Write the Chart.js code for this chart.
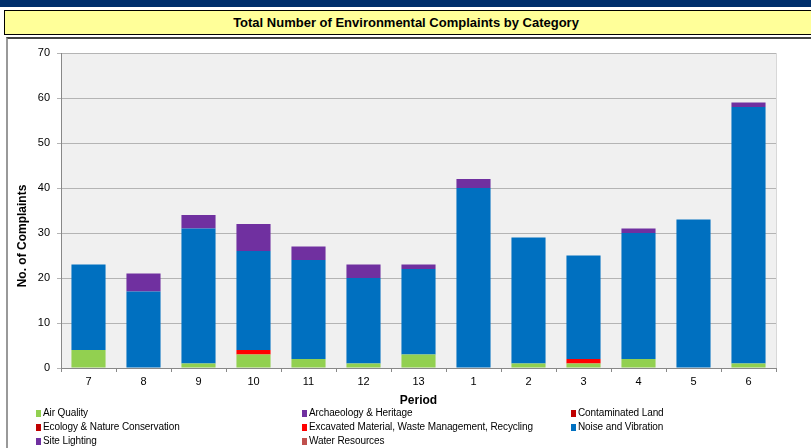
<!DOCTYPE html>
<html>
<head>
<meta charset="utf-8">
<script src="https://cdn.jsdelivr.net/npm/chart.js@4"></script>
<style>
  body { margin: 0; width: 811px; height: 448px; overflow: hidden; background: #fff; font-family: "Liberation Sans", Arial, sans-serif; }
  #band { position: absolute; left: 0; top: 0; width: 811px; height: 7px; background: #002f6c; }
  #title { position: absolute; left: 4px; top: 10px; width: 820px; height: 23px; background: #ffff99; border: 1px solid #000; }
  #title span { position: absolute; left: 0; width: 802px; top: 4px; text-align: center; font-weight: bold; font-size: 13px; color: #000; }
  #box { position: absolute; left: 6px; top: 37px; width: 820px; height: 409px; border-top: 2px solid #444; border-left: 2px solid #999; border-bottom: 1px solid #000; }
  #wrap { position: absolute; left: 0; top: 0; width: 811px; height: 448px; }
  #ytitle { position: absolute; left: 22px; top: 236px; transform: translate(-50%, -50%) rotate(-90deg); font-weight: bold; font-size: 12px; white-space: nowrap; }
  #legend { position: absolute; left: 0; top: 0; width: 811px; height: 448px; pointer-events: none; }
  .item { position: absolute; font-size: 10px; color: #000; white-space: nowrap; line-height: 12px; letter-spacing: -0.1px; }
  .item i { display: inline-block; width: 5px; height: 7px; margin-right: 2px; vertical-align: -1px; }
</style>
</head>
<body>
<div id="band"></div>
<div id="title"><span>Total Number of Environmental Complaints by Category</span></div>
<div id="box"></div>
<div id="wrap"><canvas id="chart" width="811" height="448"></canvas></div>
<div id="ytitle">No. of Complaints</div>
<div id="legend"></div>
<script>
// periods on the x axis
const periods = ['7', '8', '9', '10', '11', '12', '13', '1', '2', '3', '4', '5', '6'];

// complaints per category
const airQuality   = [4, 0, 1, 3, 2, 1, 3, 0, 1, 1, 2, 0, 1];
const contaminated = [0, 0, 0, 0, 0, 0, 0, 0, 0, 0, 0, 0, 0];
const ecology      = [0, 0, 0, 0, 0, 0, 0, 0, 0, 0, 0, 0, 0];
const excavated    = [0, 0, 0, 1, 0, 0, 0, 0, 0, 1, 0, 0, 0];
const noise        = [19, 17, 30, 22, 22, 19, 19, 40, 28, 23, 28, 33, 57];
const archaeology  = [0, 4, 3, 6, 3, 3, 1, 2, 0, 0, 1, 0, 1];
const siteLighting = [0, 0, 0, 0, 0, 0, 0, 0, 0, 0, 0, 0, 0];
const water        = [0, 0, 0, 0, 0, 0, 0, 0, 0, 0, 0, 0, 0];

const yTicks = [0, 10, 20, 30, 40, 50, 60, 70];

// stacking order (bottom to top)
const series = [
  { label: 'Air Quality', data: airQuality, color: '#92d050' },
  { label: 'Contaminated Land', data: contaminated, color: '#c00000' },
  { label: 'Ecology & Nature Conservation', data: ecology, color: '#c00000' },
  { label: 'Excavated Material, Waste Management, Recycling', data: excavated, color: '#ff0000' },
  { label: 'Noise and Vibration', data: noise, color: '#0070c0' },
  { label: 'Archaeology & Heritage', data: archaeology, color: '#7030a0' },
  { label: 'Site Lighting', data: siteLighting, color: '#7030a0' },
  { label: 'Water Resources', data: water, color: '#c0504d' }
];

// legend layout like the original (3 columns)
const legendOrder = [
  'Air Quality', 'Archaeology & Heritage', 'Contaminated Land',
  'Ecology & Nature Conservation', 'Excavated Material, Waste Management, Recycling', 'Noise and Vibration',
  'Site Lighting', 'Water Resources'
];
const legendX = [36, 302, 571];
const legendY = [407, 421, 435];
const legendEl = document.getElementById('legend');
legendOrder.forEach(function (name, i) {
  const s = series.find(function (d) { return d.label === name; });
  const div = document.createElement('div');
  div.className = 'item';
  div.style.left = legendX[i % 3] + 'px';
  div.style.top = legendY[Math.floor(i / 3)] + 'px';
  div.innerHTML = '<i style="background:' + s.color + '"></i>' + name.replace(/&/g, '&amp;');
  legendEl.appendChild(div);
});

const plotBg = {
  id: 'plotBg',
  beforeDraw: function (chart) {
    const a = chart.chartArea;
    const ctx = chart.ctx;
    ctx.save();
    ctx.fillStyle = '#f0f0f0';
    ctx.fillRect(a.left, a.top, a.right - a.left, a.bottom - a.top);
    ctx.strokeStyle = '#d8d8d8';
    ctx.lineWidth = 1;
    ctx.beginPath();
    ctx.moveTo(a.right + 0.5, a.top);
    ctx.lineTo(a.right + 0.5, a.bottom);
    ctx.stroke();
    ctx.restore();
  }
};

Chart.defaults.font.family = '"Liberation Sans", Arial, sans-serif';
Chart.defaults.color = '#000';

new Chart(document.getElementById('chart'), {
  type: 'bar',
  data: {
    labels: periods,
    datasets: series.map(function (s) {
      return {
        label: s.label,
        data: s.data,
        backgroundColor: s.color,
        borderWidth: 0,
        barPercentage: 0.62,
        categoryPercentage: 1
      };
    })
  },
  options: {
    responsive: false,
    animation: false,
    events: [],
    layout: { padding: { top: 53, left: 8, right: 35, bottom: 40 } },
    plugins: { legend: { display: false }, tooltip: { enabled: false } },
    scales: {
      x: {
        stacked: true,
        grid: { drawOnChartArea: false, drawTicks: true, tickLength: 4, color: '#888', offset: true },
        border: { color: '#888' },
        ticks: { font: { size: 11 }, padding: 3 },
        title: { display: true, text: 'Period', font: { size: 12, weight: 'bold' }, padding: { top: 1, bottom: 0 } },
        afterFit: function (axis) { axis.height = 40; }
      },
      y: {
        stacked: true,
        min: 0,
        max: 70,
        afterBuildTicks: function (axis) { axis.ticks = yTicks.map(function (v) { return { value: v }; }); },
        grid: { color: '#b4b4b4', tickLength: 4, drawTicks: true },
        border: { color: '#888' },
        ticks: { font: { size: 11 }, padding: 7 },
        afterFit: function (axis) { axis.width = 53; }
      }
    }
  },
  plugins: [plotBg]
});
</script>
</body>
</html>
